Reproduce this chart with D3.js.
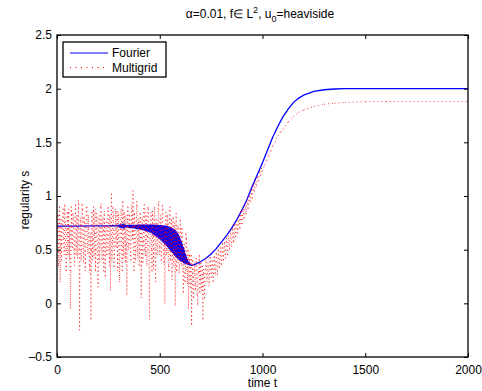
<!DOCTYPE html>
<html>
<head>
<meta charset="utf-8">
<script src="https://cdn.jsdelivr.net/npm/d3@7"></script>
<style>
  body { margin: 0; background: #fff; }
  svg { font-family: "Liberation Sans", Arial, sans-serif; }
</style>
</head>
<body>
<div id="chart"></div>
<script>
// x and y ticks
const xTicks = [0, 500, 1000, 1500, 2000];
const yTicks = [-0.5, 0, 0.5, 1, 1.5, 2, 2.5];

// Fourier: flat start
const fourierStartT = [0, 100, 200, 250];
const fourierStartV = [0.72, 0.72, 0.721, 0.722];
// Fourier: fast oscillation, crests at t = 300..650 step 5
const fourierCrestV = [
  0.725, 0.726, 0.726, 0.727, 0.727, 0.728, 0.728, 0.729, 0.729, 0.730,
  0.730, 0.731, 0.731, 0.731, 0.731, 0.732, 0.732, 0.732, 0.732, 0.733,
  0.733, 0.733, 0.733, 0.733, 0.733, 0.733, 0.733, 0.733, 0.733, 0.733,
  0.733, 0.733, 0.733, 0.733, 0.732, 0.732, 0.732, 0.731, 0.731, 0.730,
  0.730, 0.729, 0.728, 0.727, 0.726, 0.724, 0.722, 0.720, 0.717, 0.714,
  0.710, 0.706, 0.702, 0.696, 0.690, 0.682, 0.672, 0.660, 0.645, 0.627,
  0.605, 0.582, 0.555, 0.526, 0.495, 0.465, 0.435, 0.410, 0.390, 0.372,
  0.360
];
// Fourier: troughs at t = 302.5..647.5 step 5
const fourierTroughV = [
  0.715, 0.714, 0.713, 0.712, 0.711, 0.710, 0.709, 0.708, 0.707, 0.706,
  0.704, 0.703, 0.701, 0.700, 0.698, 0.697, 0.695, 0.694, 0.692, 0.690,
  0.688, 0.686, 0.684, 0.682, 0.680, 0.677, 0.674, 0.671, 0.668, 0.665,
  0.660, 0.655, 0.650, 0.644, 0.637, 0.630, 0.623, 0.615, 0.607, 0.600,
  0.592, 0.583, 0.574, 0.565, 0.555, 0.545, 0.535, 0.524, 0.513, 0.502,
  0.490, 0.478, 0.466, 0.455, 0.444, 0.434, 0.425, 0.416, 0.408, 0.400,
  0.393, 0.386, 0.380, 0.374, 0.369, 0.365, 0.362, 0.359, 0.357, 0.356
];
// Fourier: smooth rise
const fourierRiseT = [655, 665, 680, 700, 725, 750, 775, 800, 825, 850, 875, 900, 925, 950, 975,
  1000, 1025, 1050, 1075, 1100, 1125, 1150, 1175, 1200, 1250, 1300, 1350, 1400, 2000];
const fourierRiseV = [0.355, 0.358, 0.37, 0.39, 0.42, 0.46, 0.51, 0.57, 0.63, 0.70, 0.78, 0.87, 0.97, 1.09, 1.20,
  1.31, 1.43, 1.55, 1.65, 1.74, 1.81, 1.87, 1.91, 1.94, 1.975, 1.99, 1.997, 2.0, 2.0];

// Multigrid: noisy part, samples at t = 0..720 step 5
const multiNoiseV = [
  0.55, 0.82, 0.48, 0.2, 0.78, 0.62, 0.88, 0.45, 0.74, 0.3,
  0.85, 0.58, 0.4, -0.05, 0.9, 0.52, 0.78, 0.35, 0.92, 0.6,
  0.42, 0.96, -0.25, 0.8, 0.5, 0.87, 0.38, 0.75, 0.55, 0.9,
  0.46, 0.7, 0.28, -0.15, 0.85, 0.6, 0.42, 0.88, 0.5, 0.78,
  0.15, 0.82, 0.55, 0.93, 0.4, 0.68, 0.86, 0.25, 0.76, 0.52,
  0.9, 0.35, 0.12, 1.02, 0.58, 0.8, 0.45, 0.88, 0.62, 0.3,
  0.84, 0.2, 0.74, 0.5, 0.95, 0.42, 0.7, 0.82, 0.08, 0.9,
  0.55, 0.78, 0.4, 0.86, 1.05, 0.3, 0.72, 0.5, 0.9, 0.6,
  0.35, 0.84, 0.05, 0.8, 0.58, 0.92, 0.44, 0.75, 0.62, 0.88,
  -0.15, 0.7, 0.5, 0.86, 0.32, 0.9, 0.2, 0.78, 0.55, 0.95,
  0.45, 0.82, 0.6, 0.88, 0.38, 0.0, 0.85, 0.5, 0.74, 0.3,
  0.9, 0.55, 0.22, 0.8, 0.46, -0.02, 0.84, 0.4, 0.7, 0.28,
  0.78, 0.35, 0.62, 0.1, 0.55, 0.3, 0.6, 0.18, -0.05, 0.45,
  0.25, -0.2, 0.4, 0.05, 0.3, 0.12, 0.35, -0.02, 0.28, 0.1,
  0.38, 0.15, -0.15, 0.32, 0.2
];
// Multigrid: noisy part, in-between samples at t = 2.5..717.5 step 5
const multiNoiseMidV = [
  0.7, 0.35, 0.9, 0.55, 0.4, 0.8, 0.6, 0.92, 0.5, 0.68,
  0.45, 0.88, 0.72, 0.3, 0.6, 0.84, 0.5, 0.76, 0.45, 0.82,
  0.7, 0.5, 0.62, 0.4, 0.92, 0.55, 0.8, 0.3, 0.85, 0.6,
  0.82, 0.35, 0.65, 0.5, 0.4, 0.9, 0.66, 0.3, 0.84, 0.45,
  0.6, 0.38, 0.9, 0.5, 0.8, 0.3, 0.6, 0.72, 0.45, 0.88,
  0.5, 0.82, 0.6, 0.4, 0.9, 0.34, 0.7, 0.52, 0.86, 0.74,
  0.45, 0.65, 0.88, 0.3, 0.6, 0.85, 0.38, 0.55, 0.78, 0.5,
  0.82, 0.45, 0.92, 0.6, 0.5, 0.84, 0.4, 0.95, 0.42, 0.78,
  0.75, 0.5, 0.7, 0.38, 0.88, 0.5, 0.85, 0.35, 0.9, 0.48,
  0.6, 0.85, 0.3, 0.62, 0.8, 0.5, 0.74, 0.45, 0.88, 0.52,
  0.78, 0.4, 0.92, 0.5, 0.7, 0.55, 0.45, 0.82, 0.35, 0.86,
  0.4, 0.78, 0.6, 0.35, 0.75, 0.5, 0.3, 0.72, 0.42, 0.65,
  0.45, 0.7, 0.3, 0.55, 0.2, 0.65, 0.32, 0.5, 0.25, 0.15,
  0.45, 0.2, 0.1, 0.38, 0.18, 0.42, 0.08, 0.3, 0.45, 0.22,
  0.12, 0.35, 0.28, 0.05
];
// Multigrid: rising, still noisy (t = 725..1000 step 5)
const multiRiseV = [
  0.42, 0.2, 0.38, 0.16, 0.43, 0.24, 0.4, 0.2, 0.44, 0.27,
  0.47, 0.26, 0.5, 0.33, 0.52, 0.36, 0.56, 0.4, 0.57, 0.42,
  0.61, 0.45, 0.63, 0.5, 0.68, 0.53, 0.7, 0.57, 0.74, 0.62,
  0.77, 0.65, 0.82, 0.7, 0.86, 0.74, 0.88, 0.79, 0.93, 0.83,
  0.97, 0.88, 1.0, 0.94, 1.06, 0.98, 1.1, 1.04, 1.15, 1.09,
  1.18, 1.14, 1.23, 1.19, 1.26, 1.23
];
// Multigrid: smooth tail
const multiTailT = [1010, 1020, 1030, 1040, 1050, 1060, 1075, 1090, 1100, 1125, 1150, 1175, 1200,
  1250, 1300, 1350, 1400, 1500, 1600, 2000];
const multiTailV = [1.29, 1.33, 1.38, 1.42, 1.47, 1.5, 1.56, 1.6, 1.62, 1.69, 1.74, 1.78, 1.8,
  1.835, 1.855, 1.865, 1.872, 1.878, 1.88, 1.88];

// interleave two sample sets taken half a step apart
function interleave(t0, step, a, b) {
  const out = [];
  a.forEach((v, i) => {
    out.push([t0 + i * step, v]);
    if (i < b.length) out.push([t0 + i * step + step / 2, b[i]]);
  });
  return out;
}

const fourier = [
  ...fourierStartT.map((t, i) => [t, fourierStartV[i]]),
  ...interleave(300, 5, fourierCrestV, fourierTroughV),
  ...fourierRiseT.map((t, i) => [t, fourierRiseV[i]])
];
const multigrid = [
  ...interleave(0, 5, multiNoiseV, multiNoiseMidV),
  ...d3.range(725, 1001, 5).map((t, i) => [t, multiRiseV[i]]),
  ...multiTailT.map((t, i) => [t, multiTailV[i]])
];

const width = 482, height = 391;
const margin = { top: 35, right: 14, bottom: 34, left: 57 };

const svg = d3.select('#chart').append('svg')
  .attr('width', width)
  .attr('height', height);

const x = d3.scaleLinear().domain([0, 2000]).range([margin.left, width - margin.right]);
const y = d3.scaleLinear().domain([-0.5, 2.5]).range([height - margin.bottom, margin.top]);

svg.append('clipPath').attr('id', 'plot')
  .append('rect')
  .attr('x', margin.left).attr('y', margin.top)
  .attr('width', x.range()[1] - margin.left)
  .attr('height', y.range()[0] - margin.top);

const line = d3.line().x(d => x(d[0])).y(d => y(d[1]));

const plot = svg.append('g').attr('clip-path', 'url(#plot)');

plot.append('path')
  .datum(fourier)
  .attr('d', line)
  .attr('fill', 'none')
  .attr('stroke', '#0000ff')
  .attr('stroke-width', 1.3);

// dotted pattern restarts on every segment (like the original renderer), drawn over the Fourier line
plot.append('g').selectAll('line')
  .data(d3.pairs(multigrid))
  .join('line')
  .attr('x1', d => x(d[0][0]))
  .attr('y1', d => y(d[0][1]))
  .attr('x2', d => x(d[1][0]))
  .attr('y2', d => y(d[1][1]))
  .attr('stroke', '#ff0000')
  .attr('stroke-width', 1)
  .attr('stroke-dasharray', '1,3')
  .attr('opacity', 0.8);

// axes, matlab style: inward ticks on all four sides
const tickLen = 4;

const axisBottom = svg.append('g').attr('transform', `translate(0,${y.range()[0]})`)
  .call(d3.axisBottom(x).tickValues(xTicks).tickSizeInner(-tickLen).tickSizeOuter(0).tickPadding(8)
    .tickFormat(d3.format('d')));
const axisTop = svg.append('g').attr('transform', `translate(0,${margin.top})`)
  .call(d3.axisTop(x).tickValues(xTicks).tickSizeInner(-tickLen).tickSizeOuter(0).tickFormat(''));
const axisLeft = svg.append('g').attr('transform', `translate(${margin.left},0)`)
  .call(d3.axisLeft(y).tickValues(yTicks).tickSizeInner(-tickLen).tickSizeOuter(0).tickPadding(5)
    .tickFormat(d => d < 0 ? '\u2013' + Math.abs(d) : String(d)));
const axisRight = svg.append('g').attr('transform', `translate(${x.range()[1]},0)`)
  .call(d3.axisRight(y).tickValues(yTicks).tickSizeInner(-tickLen).tickSizeOuter(0).tickFormat(''));

[axisBottom, axisTop, axisLeft, axisRight].forEach(g => {
  g.select('.domain').remove();
  g.selectAll('line').attr('stroke', '#000');
  g.selectAll('text').attr('font-size', 12).attr('fill', '#000').attr('font-family', '"Liberation Sans", Arial, sans-serif');
});

svg.append('rect')
  .attr('x', margin.left).attr('y', margin.top)
  .attr('width', x.range()[1] - margin.left)
  .attr('height', y.range()[0] - margin.top)
  .attr('fill', 'none')
  .attr('stroke', '#000')
  .attr('stroke-width', 1.3);

// labels
svg.append('text')
  .attr('x', (margin.left + x.range()[1]) / 2)
  .attr('y', 387)
  .attr('text-anchor', 'middle')
  .attr('font-size', 12)
  .text('time t');

svg.append('text')
  .attr('transform', `translate(29,200) rotate(-90)`)
  .attr('text-anchor', 'middle')
  .attr('font-size', 12)
  .text('regularity s');

const title = svg.append('text')
  .attr('x', 260)
  .attr('y', 18)
  .attr('text-anchor', 'middle')
  .attr('font-size', 12);
title.append('tspan').text('\u03b1=0.01, f\u2208 L');
title.append('tspan').attr('font-size', 9).attr('dy', -5).text('2');
title.append('tspan').attr('dy', 5).text(', u');
title.append('tspan').attr('font-size', 9).attr('dy', 4).text('0');
title.append('tspan').attr('dy', -4).text('=heaviside');

// legend
const legend = svg.append('g').attr('transform', 'translate(63,42)');
legend.append('rect')
  .attr('width', 103).attr('height', 35)
  .attr('fill', '#fff').attr('stroke', '#000').attr('stroke-width', 1.3);

const legendItems = [
  { name: 'Fourier', color: '#0000ff', dash: null },
  { name: 'Multigrid', color: '#ff0000', dash: '1,4.5' }
];
legendItems.forEach((item, i) => {
  const g = legend.append('g').attr('transform', `translate(0,${11 + i * 14.5})`);
  g.append('line')
    .attr('x1', 7).attr('x2', 45)
    .attr('stroke', item.color)
    .attr('stroke-width', 1)
    .attr('stroke-dasharray', item.dash);
  g.append('text')
    .attr('x', 49).attr('y', 4)
    .attr('font-size', 12)
    .text(item.name);
});
</script>
</body>
</html>
